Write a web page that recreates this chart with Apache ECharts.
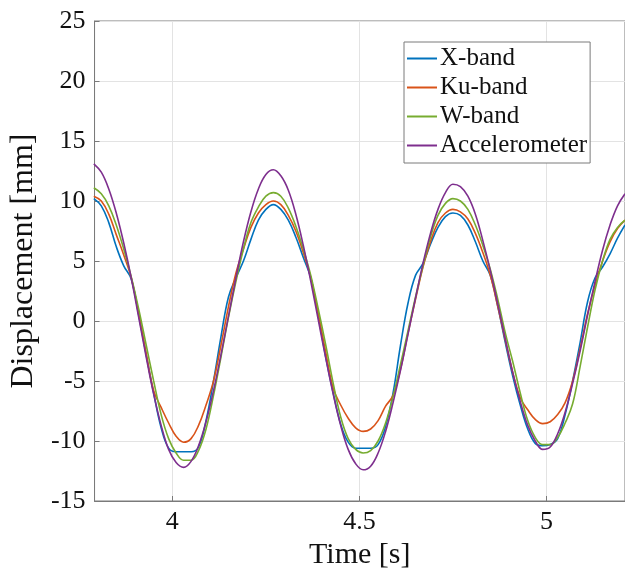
<!DOCTYPE html>
<html>
<head>
<meta charset="utf-8">
<script src="https://cdn.jsdelivr.net/npm/echarts@6/dist/echarts.min.js"></script>
<style>html,body{margin:0;padding:0;background:#fff}#c{width:625px;height:578px}</style>
</head>
<body>
<div id="c"></div>
<script>
const time = [3.79,3.81,3.83,3.85,3.87,3.89,3.91,3.93,3.95,3.97,3.99,4.01,4.03,4.05,4.07,4.09,4.11,4.13,4.15,4.17,4.19,4.21,4.23,4.25,4.27,4.29,4.31,4.33,4.35,4.37,4.39,4.41,4.43,4.45,4.47,4.49,4.51,4.53,4.55,4.57,4.59,4.61,4.63,4.65,4.67,4.69,4.71,4.73,4.75,4.77,4.79,4.81,4.83,4.85,4.87,4.89,4.91,4.93,4.95,4.97,4.99,5.01,5.03,5.05,5.07,5.09,5.11,5.13,5.15,5.17,5.19,5.21];
const xBand = [10.2,9.6,8.2,6.2,4.6,3.5,0.5,-2.8,-6.0,-8.9,-10.6,-10.9,-10.9,-10.9,-10.5,-8.3,-5.0,-1.3,2.0,3.6,5.0,6.8,8.4,9.3,9.7,9.3,8.4,7.0,5.3,3.6,0.4,-3.0,-6.0,-8.6,-10.1,-10.6,-10.6,-10.6,-10.3,-8.8,-6.0,-2.0,1.5,3.8,4.8,6.4,7.8,8.7,9.0,8.8,8.0,6.6,5.0,3.8,1.2,-1.8,-4.6,-7.0,-9.0,-10.2,-10.4,-10.3,-9.8,-7.8,-5.0,-1.8,1.6,3.6,4.5,5.6,6.9,8.0];
const kuBand = [10.4,10.0,8.9,7.2,5.5,3.6,0.6,-2.7,-5.8,-7.2,-8.5,-9.6,-10.1,-9.8,-8.7,-7.0,-5.0,-2.0,1.2,4.0,6.0,7.8,9.0,9.7,10.0,9.7,8.8,7.5,5.7,3.6,0.6,-2.6,-5.6,-7.0,-8.1,-8.9,-9.2,-9.0,-8.3,-7.1,-6.2,-4.0,-1.0,1.8,4.5,6.6,8.2,9.0,9.3,9.1,8.5,7.3,5.7,3.8,1.2,-1.6,-4.3,-6.4,-7.4,-8.2,-8.55,-8.4,-7.8,-6.8,-5.0,-2.3,0.6,3.0,5.0,6.6,7.7,8.4];
const wBand = [11.1,10.6,9.6,8.0,6.0,3.7,1.0,-2.0,-5.0,-7.8,-9.8,-11.0,-11.6,-11.6,-10.8,-9.0,-6.2,-3.0,0.3,3.3,6.0,8.2,9.5,10.4,10.7,10.4,9.4,7.9,6.0,3.8,1.0,-2.0,-5.2,-8.0,-9.8,-10.7,-11.0,-10.8,-10.0,-8.5,-6.3,-3.6,-0.8,2.0,4.6,7.0,8.8,9.8,10.2,10.0,9.3,8.0,6.3,4.3,1.8,-1.0,-3.4,-6.0,-8.3,-9.7,-10.3,-10.3,-9.7,-8.5,-6.9,-3.8,-0.5,2.6,5.0,6.8,7.8,8.4];
const accel = [13.1,12.4,11.0,9.0,6.5,3.6,0.3,-3.0,-6.1,-8.7,-10.7,-11.8,-12.2,-11.7,-10.4,-8.4,-5.8,-2.8,0.4,3.6,6.6,9.1,11.0,12.2,12.6,12.1,10.9,8.9,6.3,3.3,0.1,-3.1,-6.1,-8.7,-10.7,-11.9,-12.4,-12.1,-11.0,-9.2,-6.8,-4.1,-1.1,1.9,4.8,7.3,9.3,10.7,11.4,11.2,10.4,8.9,6.7,4.2,1.4,-1.5,-4.3,-6.7,-8.7,-10.0,-10.7,-10.5,-9.4,-7.6,-5.2,-2.5,0.5,3.3,5.9,8.0,9.6,10.6];
const seriesNames = ['X-band','Ku-band','W-band','Accelerometer'];
const seriesColors = ['#0072BD','#D95319','#77AC30','#7E2F8E'];
const xTicks = [4, 4.5, 5];
const yTicks = [-15,-10,-5,0,5,10,15,20,25];

const font = '"Liberation Serif","Times New Roman",serif';
const allData = [xBand, kuBand, wBand, accel];
const chart = echarts.init(document.getElementById('c'), null, {renderer:'canvas'});
chart.setOption({
  animation: false,
  backgroundColor: '#fff',
  grid: {left: 93, right: 0, top: 21, bottom: 77, show: true, borderColor: '#7a7a7a', borderWidth: 1, backgroundColor: 'transparent'},
  legend: {
    orient: 'vertical', left: 404, top: 42,
    data: seriesNames,
    icon: 'rect', itemWidth: 30, itemHeight: 2, itemGap: 0,
    padding: [2, 3, 3, 3],
    borderColor: '#7a7a7a', borderWidth: 1, backgroundColor: '#fff',
    textStyle: {fontFamily: font, fontSize: 25, color: '#111', lineHeight: 29, padding: [0,0,0,-2]}
  },
  xAxis: {
    type: 'value', min: 3.792, max: 5.21,
    name: 'Time [s]', nameLocation: 'middle', nameGap: 39,
    nameTextStyle: {fontFamily: font, fontSize: 30, color: '#111'},
    axisLine: {show: true, onZero: false, lineStyle: {color: '#7a7a7a', width: 1}},
    axisTick: {show: true, inside: true, length: 5, customValues: xTicks, lineStyle: {color: '#7a7a7a'}},
    axisLabel: {customValues: xTicks, fontFamily: font, fontSize: 26, color: '#111', margin: 8, formatter: v => String(v)},
    splitLine: {show: true, lineStyle: {color: '#e3e3e3', width: 1}}
  },
  yAxis: {
    type: 'value', min: -15, max: 25, interval: 5,
    name: 'Displacement [mm]', nameLocation: 'middle', nameGap: 36,
    nameTextStyle: {fontFamily: font, fontSize: 32, color: '#111'},
    axisLine: {show: true, onZero: false, lineStyle: {color: '#7a7a7a', width: 1}},
    axisTick: {show: true, inside: true, length: 5, lineStyle: {color: '#7a7a7a'}},
    axisLabel: {fontFamily: font, fontSize: 26, color: '#111', margin: 9},
    splitLine: {show: true, lineStyle: {color: '#e3e3e3', width: 1}}
  },
  series: seriesNames.map((n, i) => ({
    name: n, type: 'line', symbol: 'none', smooth: 0.4,
    color: seriesColors[i],
    lineStyle: {width: 1.6, color: seriesColors[i]},
    data: time.map((t, k) => [t, allData[i][k]])
  }))
});
</script>
</body>
</html>
